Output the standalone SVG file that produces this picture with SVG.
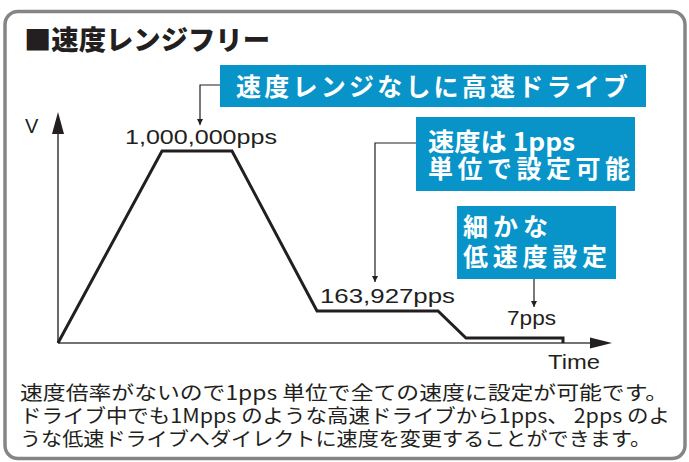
<svg xmlns="http://www.w3.org/2000/svg" width="689" height="462" viewBox="0 0 689 462">
<defs>
<style>
.frame{fill:#fff;stroke:#858585;stroke-width:3.5}
.box{fill:#0894c8}
.bt{font-family:"Noto Sans CJK JP",sans-serif;font-weight:bold;font-size:25px;fill:#fff}
.title{font-family:"Noto Sans CJK JP",sans-serif;font-weight:900;font-size:27px;fill:#231f20}
.lbl{font-family:"Liberation Sans","DejaVu Sans",sans-serif;font-size:20px;fill:#231f20}
.body{font-family:"Noto Sans CJK JP",sans-serif;font-size:19.5px;fill:#231f20}
.conn{fill:none;stroke:#231f20;stroke-width:1.2}
.axis{fill:none;stroke:#444;stroke-width:1.6}
.curve{fill:none;stroke:#231f20;stroke-width:3;stroke-linejoin:miter}
</style>
<marker id="ah" viewBox="0 0 10 10" refX="10" refY="5" markerWidth="6" markerHeight="10" markerUnits="userSpaceOnUse" orient="auto"><path d="M0,0 L10,5 L0,10 Z" fill="#231f20"/></marker>
</defs>
<rect class="frame" x="5" y="11.5" width="680" height="447" rx="13"/>
<g id="title"><text class="title" x="24" y="50" textLength="246" lengthAdjust="spacingAndGlyphs">■速度レンジフリー</text></g>
<g id="chart">
<line class="axis" x1="58" y1="343" x2="58" y2="130"/>
<path d="M58,112 L64,134 L52,134 Z" fill="#231f20"/>
<line class="axis" x1="58" y1="343" x2="592" y2="343"/>
<path d="M612,343 L590,337.5 L590,348.5 Z" fill="#231f20"/>
<text class="lbl" x="25" y="133" font-size="19">V</text>
<text class="lbl" x="548" y="369" font-size="22" textLength="52" lengthAdjust="spacingAndGlyphs">Time</text>
<path class="curve" d="M58,343 L162,151 L232,151 L317,311 L438,311 L466,338 L563,338 L563,343"/>
<text class="lbl" x="125" y="144" textLength="152" lengthAdjust="spacingAndGlyphs">1,000,000pps</text>
<text class="lbl" x="320" y="303" textLength="135" lengthAdjust="spacingAndGlyphs">163,927pps</text>
<text class="lbl" x="507" y="325" textLength="49" lengthAdjust="spacingAndGlyphs">7pps</text>
</g>
<g id="connectors">
<path class="conn" d="M220,85 H200 V125" marker-end="url(#ah)"/>
<path class="conn" d="M416,143 H375 V282" marker-end="url(#ah)"/>
<path class="conn" d="M534,279 V307" marker-end="url(#ah)"/>
</g>
<g id="box1">
<rect class="box" x="220" y="65" width="426" height="42"/>
<text class="bt" x="236" y="96" font-size="26" textLength="392" lengthAdjust="spacing">速度レンジなしに高速ドライブ</text>
</g>
<g id="box2">
<rect class="box" x="416" y="117" width="219" height="74"/>
<text class="bt" x="428" y="151" textLength="147" lengthAdjust="spacingAndGlyphs">速度は 1pps</text>
<text class="bt" x="428" y="178" textLength="202" lengthAdjust="spacing">単位で設定可能</text>
</g>
<g id="box3">
<rect class="box" x="457" y="206" width="159" height="73"/>
<text class="bt" x="463" y="236" textLength="85" lengthAdjust="spacing">細かな</text>
<text class="bt" x="463" y="266" textLength="144" lengthAdjust="spacing">低速度設定</text>
</g>
<g id="description">
<text class="body" x="20" y="400" textLength="648" lengthAdjust="spacingAndGlyphs">速度倍率がないので1pps 単位で全ての速度に設定が可能です。</text>
<text class="body" x="20" y="423" textLength="650" lengthAdjust="spacingAndGlyphs">ドライブ中でも1Mpps のような高速ドライブから1pps、 2pps のよ</text>
<text class="body" x="20" y="446" textLength="631" lengthAdjust="spacingAndGlyphs">うな低速ドライブへダイレクトに速度を変更することができます。</text>
</g>
</svg>
